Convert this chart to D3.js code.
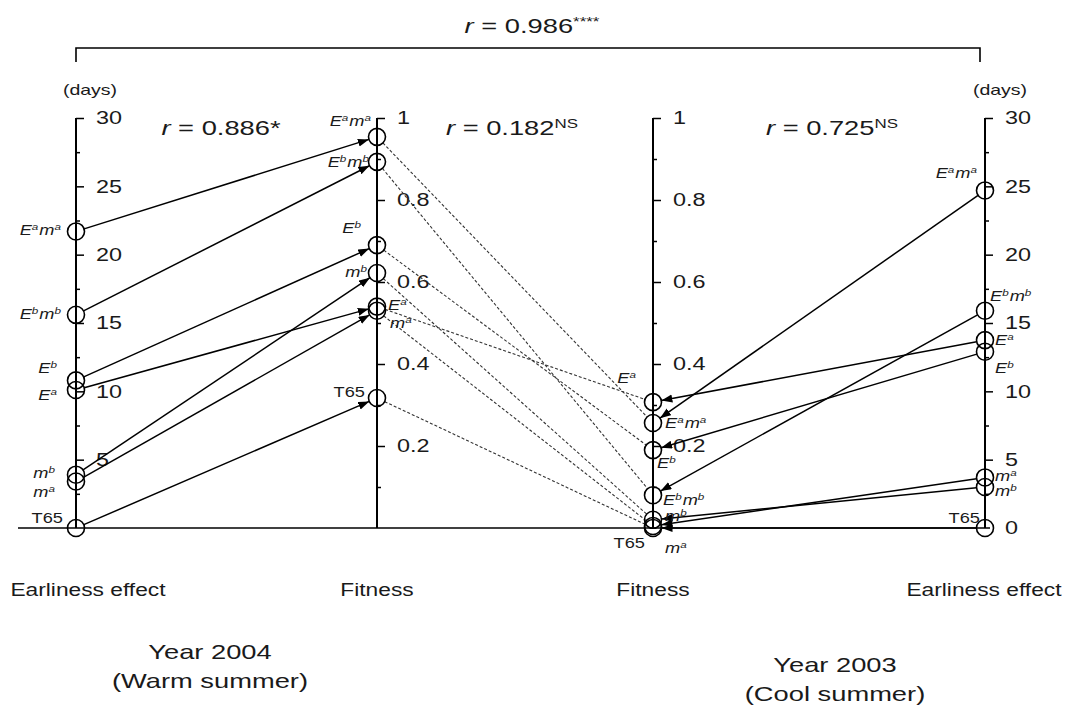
<!DOCTYPE html>
<html><head><meta charset="utf-8">
<script src="https://cdn.jsdelivr.net/npm/d3@7"></script>
<style>
html,body{margin:0;padding:0;background:#fff;}
text{font-family:"Liberation Sans",Arial,Helvetica,sans-serif;fill:#1a1a1a;}
</style></head>
<body><svg id="c" width="1065" height="705"></svg>
<script>
// ---- data ----
const axesKeys = ["E2004","F2004","F2003","E2003"];
const genotypes = ["Ea ma","Eb mb","Eb","Ea","mb","ma","T65"];
const earl2004 = [21.7, 15.6, 10.8, 10.1, 3.9, 3.4, 0];
const fit2004  = [0.954, 0.893, 0.69, 0.54, 0.622, 0.53, 0.317];
const fit2003  = [0.256, 0.08, 0.19, 0.307, 0.02, 0.005, 0];
const earl2003 = [24.7, 15.9, 12.9, 13.75, 3.0, 3.7, 0];
const earlMajor = [5,10,15,20,25,30];
const earlMinor = [2.5,7.5,12.5,17.5,22.5,27.5];
const fitMajor = [0.2,0.4,0.6,0.8,1];
const fitMinor = [0.1,0.3,0.5,0.7,0.9];
const rLabels = [{v:"0.986",s:"****"},{v:"0.886*",s:""},{v:"0.182",s:"NS"},{v:"0.725",s:"NS"}];
const axisTitles = ["Earliness effect","Fitness","Fitness","Earliness effect"];
const yearTitles = [["Year 2004","(Warm summer)"],["Year 2003","(Cool summer)"]];

// ---- layout ----
const STRETCH = 1.3;
const svg = d3.select("#c");
const x = d3.scaleOrdinal().domain(axesKeys).range([76,377,653,985]);
const yE = d3.scaleLinear().domain([0,30]).range([528,118]);
const yF = d3.scaleLinear().domain([0,1]).range([528,118]);
const R = 8.5;
// label offsets [dx, dy, anchor] per axis, in genotype order
const labOff = {
  E2004:[[-14,4,"end"],[-14,4,"end"],[-18,-7,"end"],[-18,10,"end"],[-20,3,"end"],[-20,15,"end"],[-13,-5,"end"]],
  F2004:[[-5,-11,"end"],[-7,5,"end"],[-15,-12,"end"],[11,3,"start"],[-9,4,"end"],[13,17,"start"],[-12,-1,"end"]],
  F2003:[[12,5,"start"],[10,10,"start"],[4,18,"start"],[-16,-19,"end"],[12,1,"start"],[12,27,"start"],[-8,20,"end"]],
  E2003:[[-7,-12,"end"],[5,-10,"start"],[10,21,"start"],[10,5,"start"],[10,9,"start"],[10,4,"start"],[-5,-5,"end"]]
};

svg.append("defs").append("marker")
  .attr("id","arr").attr("markerUnits","userSpaceOnUse")
  .attr("markerWidth",12).attr("markerHeight",10).attr("refX",11).attr("refY",4)
  .attr("orient","auto")
  .append("path").attr("d","M0,0 L11,4 L0,8 Z").attr("fill","#000");

// baseline
svg.append("line").attr("x1",18).attr("x2",990).attr("y1",yE(0)).attr("y2",yE(0))
  .attr("stroke","#000").attr("stroke-width",1.6);

// axes
function drawAxis(key, scale, major, minor, showZero){
  const g = svg.append("g").attr("transform",`translate(${x(key)},0)`);
  const fmt = d3.format("~g");
  const vals = showZero ? [0].concat(major) : major;
  g.call(d3.axisRight(scale).tickValues(vals).tickSize(8).tickSizeOuter(0).tickPadding(12)
        .tickFormat(d=>fmt(d)));
  g.selectAll(".tick line").attr("stroke","#000").attr("stroke-width",1.5);
  g.selectAll(".tick").filter(d=>d===0).select("line").remove();
  g.select(".domain").remove();
  g.selectAll(".tick text").attr("class","st").style("font-size","18px")
    .style("font-family","Liberation Sans, Arial, sans-serif").attr("fill","#1a1a1a");
  const gm = svg.append("g").attr("transform",`translate(${x(key)},0)`);
  gm.call(d3.axisRight(scale).tickValues(minor).tickSize(4).tickSizeOuter(0).tickFormat(""));
  gm.select(".domain").remove();
  gm.selectAll(".tick line").attr("stroke","#000").attr("stroke-width",1.5);
  g.append("line").attr("x1",0).attr("x2",0).attr("y1",scale.range()[1]).attr("y2",scale.range()[0])
    .attr("stroke","#000").attr("stroke-width",2);
}
drawAxis("E2004", yE, earlMajor, earlMinor, false);
drawAxis("F2004", yF, fitMajor, fitMinor, false);
drawAxis("F2003", yF, fitMajor, fitMinor, false);
drawAxis("E2003", yE, earlMajor, earlMinor, true);

// points per axis
const pts = {
  E2004: earl2004.map(v=>[x("E2004"), yE(v)]),
  F2004: fit2004.map(v=>[x("F2004"), yF(v)]),
  F2003: fit2003.map(v=>[x("F2003"), yF(v)]),
  E2003: earl2003.map(v=>[x("E2003"), yE(v)])
};
function trim(a,b,r1,r2){
  const dx=b[0]-a[0], dy=b[1]-a[1], L=Math.hypot(dx,dy);
  return [[a[0]+dx/L*r1, a[1]+dy/L*r1],[b[0]-dx/L*r2, b[1]-dy/L*r2]];
}
// dashed links between fitness axes
genotypes.forEach((g,i)=>{
  const [p,q] = trim(pts.F2004[i], pts.F2003[i], R, R);
  svg.append("line").attr("x1",p[0]).attr("y1",p[1]).attr("x2",q[0]).attr("y2",q[1])
    .attr("stroke","#333").attr("stroke-width",1.1).attr("stroke-dasharray","3,2");
});
// solid arrows earliness -> fitness
genotypes.forEach((g,i)=>{
  [["E2004","F2004"],["E2003","F2003"]].forEach(([a,b])=>{
    const [p,q] = trim(pts[a][i], pts[b][i], R, R);
    svg.append("line").attr("x1",p[0]).attr("y1",p[1]).attr("x2",q[0]).attr("y2",q[1])
      .attr("stroke","#000").attr("stroke-width",1.5).attr("marker-end","url(#arr)");
  });
});
// circles
axesKeys.forEach(k=>{
  svg.append("g").selectAll("circle").data(pts[k]).join("circle")
    .attr("cx",d=>d[0]).attr("cy",d=>d[1]).attr("r",R)
    .attr("fill","none").attr("stroke","#000").attr("stroke-width",1.6);
});
// genotype labels
function genoLabel(t, name){
  if(name==="T65"){ t.append("tspan").text("T65").style("font-size","14px"); return; }
  name.split(" ").forEach(tok=>{
    t.append("tspan").text(tok[0]).style("font-size","14px").style("font-style","italic");
    t.append("tspan").text(tok.slice(1)).style("font-size","9px").style("font-style","italic").attr("dy",-5);
    t.append("tspan").text("\u200A").style("font-size","9px").attr("dy",5);
  });
}
axesKeys.forEach(k=>{
  genotypes.forEach((g,i)=>{
    const o = labOff[k][i];
    const t = svg.append("text").attr("class","st").attr("x",pts[k][i][0]+o[0]).attr("y",pts[k][i][1]+o[1])
      .attr("text-anchor",o[2]);
    genoLabel(t,g);
  });
});

// top bracket
const by = 48;
svg.append("path").attr("d",`M${x("E2004")},62 V${by} H${x("E2003")-5} V62`)
  .attr("fill","none").attr("stroke","#000").attr("stroke-width",1.6);

function rText(xp, yp, d, size){
  const t = svg.append("text").attr("class","st").attr("x",xp).attr("y",yp).attr("text-anchor","middle")
    .style("font-size",size+"px");
  t.append("tspan").text("r").style("font-style","italic");
  t.append("tspan").text(" = "+d.v);
  if(d.s){ t.append("tspan").text(d.s).style("font-size",(size*0.62)+"px").attr("dy",-7); }
}
rText(532, 33, rLabels[0], 21);
rText(221, 135, rLabels[1], 21);
rText(512, 135, rLabels[2], 21);
rText(832, 135, rLabels[3], 21);

// (days)
[90,1000].forEach(xp=>{
  svg.append("text").attr("class","st").attr("x",xp).attr("y",95).attr("text-anchor","middle")
    .style("font-size","15px").text("(days)");
});

// axis titles
const titleX = [88, 377, 653, 984];
axisTitles.forEach((s,i)=>{
  svg.append("text").attr("class","st").attr("x",titleX[i]).attr("y",596).attr("text-anchor","middle")
    .style("font-size","17.5px").text(s);
});
// year titles
[[210,659],[835,672]].forEach(([xp,yp],i)=>{
  yearTitles[i].forEach((s,j)=>{
    svg.append("text").attr("class","st").attr("x",xp).attr("y",yp+j*29).attr("text-anchor","middle")
      .style("font-size","21px").text(s);
  });
});

// horizontal stretch of text to match reference glyph widths
svg.selectAll("text.st").each(function(){
  const L = this.getComputedTextLength();
  if(L>0){ d3.select(this).attr("textLength", L*STRETCH).attr("lengthAdjust","spacingAndGlyphs"); }
});
</script></body></html>
